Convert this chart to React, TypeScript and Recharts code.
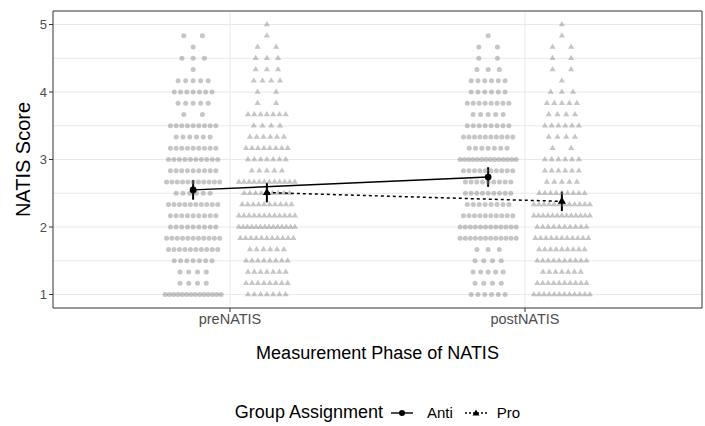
import React from "react";
import {
  ComposedChart,
  Scatter,
  XAxis,
  YAxis,
  CartesianGrid,
  ErrorBar,
  ReferenceArea,
  Label,
} from "recharts";

// score levels, top (5) to bottom (1), steps of 1/6
const scoreLevels = Array.from({ length: 25 }, (_, i) => 5 - i / 6);

// number of participants at each level (same order as scoreLevels)
const antiPreCounts = [0, 2, 1, 3, 1, 5, 7, 5, 2, 9, 6, 9, 10, 9, 11, 6, 10, 9, 9, 11, 10, 7, 4, 4, 14];
const proPreCounts = [1, 1, 2, 3, 3, 4, 2, 2, 7, 4, 6, 8, 7, 5, 12, 9, 10, 12, 14, 11, 6, 8, 7, 8, 7];
const antiPostCounts = [0, 1, 2, 2, 3, 6, 6, 8, 5, 8, 10, 7, 14, 10, 9, 9, 8, 10, 12, 12, 3, 4, 5, 4, 6];
const proPostCounts = [1, 1, 2, 2, 2, 1, 3, 5, 4, 6, 4, 2, 6, 6, 5, 9, 12, 13, 10, 11, 9, 10, 7, 10, 12];

const phases = ["preNATIS", "postNATIS"];
const antiMeans = [2.55, 2.74];
const proMeans = [2.51, 2.38];
const antiErr = [0.145, 0.145];
const proErr = [0.145, 0.145];

const DODGE = 0.125;
const FONT = "'Liberation Sans', Arial, sans-serif";

// spread the points of one level sideways around the group centre
const spreadRow = (centre: number, y: number, n: number) => {
  if (n === 0) return [];
  if (n === 1) return [{ x: centre, y }];
  const half = Math.min(0.095, 0.025 + (n - 1) * 0.0065);
  return Array.from({ length: n }, (_, i) => ({
    x: centre - half + (2 * half * i) / (n - 1),
    y,
  }));
};

const buildDots = (counts: number[], centre: number) =>
  counts.flatMap((n, i) => spreadRow(centre, scoreLevels[i], n));

const antiPre = buildDots(antiPreCounts, 1 - DODGE);
const proPre = buildDots(proPreCounts, 1 + DODGE);
const antiPost = buildDots(antiPostCounts, 2 - DODGE);
const proPost = buildDots(proPostCounts, 2 + DODGE);
const antiDots = [...antiPre, ...antiPost];
const proDots = [...proPre, ...proPost];

const antiMeanData = antiMeans.map((y, i) => ({ x: i + 1 - DODGE, y, err: antiErr[i] }));
const proMeanData = proMeans.map((y, i) => ({ x: i + 1 + DODGE, y, err: proErr[i] }));

const triPath = (cx: number, cy: number, s: number) => {
  const h = s * 0.866;
  return `M${cx},${cy - (2 * h) / 3}L${cx + s / 2},${cy + h / 3}L${cx - s / 2},${cy + h / 3}Z`;
};

const GreyCircle = (p: any) => (
  <circle cx={p.cx} cy={p.cy} r={2.5} fill="#808080" fillOpacity={0.45} />
);
const GreyTriangle = (p: any) => (
  <path d={triPath(p.cx, p.cy, 6.2)} fill="#808080" fillOpacity={0.45} />
);
const MeanCircle = (p: any) => <circle cx={p.cx} cy={p.cy} r={3.4} fill="#000" />;
const MeanTriangle = (p: any) => <path d={triPath(p.cx, p.cy, 8)} fill="#000" />;

const LegendKey = ({ dashed, tri }: { dashed?: boolean; tri?: boolean }) => (
  <svg width={26} height={14} style={{ display: "block" }}>
    <line
      x1={2}
      x2={24}
      y1={7}
      y2={7}
      stroke="#000"
      strokeWidth={1.4}
      strokeDasharray={dashed ? "2 2" : undefined}
    />
    {tri ? <path d={triPath(13, 7.5, 7)} fill="#000" /> : <circle cx={13} cy={7} r={3} fill="#000" />}
  </svg>
);

export default function App() {
  return (
    <div
      style={{
        position: "absolute",
        left: 0,
        top: 0,
        width: 705,
        height: 426,
        background: "#fff",
        fontFamily: FONT,
      }}
    >
      <ComposedChart
        width={705}
        height={426}
        margin={{ top: 11, right: 3, left: 0, bottom: 58 }}
      >
        <CartesianGrid
          stroke="#e8e8e8"
          strokeWidth={1}
          horizontalValues={[1, 1.5, 2, 2.5, 3, 3.5, 4, 4.5, 5]}
          verticalValues={[1, 2]}
        />
        <XAxis
          type="number"
          dataKey="x"
          domain={[0.4, 2.6]}
          ticks={[1, 2]}
          allowDataOverflow
          tickFormatter={(v) => phases[v - 1] ?? ""}
          axisLine={false}
          tickLine={{ stroke: "#333" }}
          tickSize={4}
          tick={{ fill: "#4d4d4d", fontSize: 14.5, fontFamily: FONT }}
          height={60}
        >
          <Label
            value="Measurement Phase of NATIS"
            position="insideBottom"
            offset={9}
            style={{ fill: "#000", fontSize: 18, fontFamily: FONT }}
          />
        </XAxis>
        <YAxis
          type="number"
          dataKey="y"
          domain={[0.8, 5.2]}
          ticks={[1, 2, 3, 4, 5]}
          allowDataOverflow
          axisLine={false}
          tickLine={{ stroke: "#333" }}
          tickSize={4}
          tick={{ fill: "#4d4d4d", fontSize: 13, fontFamily: FONT }}
          width={53}
        >
          <Label
            value="NATIS Score"
            angle={-90}
            position="insideLeft"
            offset={23}
            style={{ fill: "#000", fontSize: 20, fontFamily: FONT, textAnchor: "middle" }}
          />
        </YAxis>
        <Scatter data={antiDots} shape={GreyCircle} isAnimationActive={false} />
        <Scatter data={proDots} shape={GreyTriangle} isAnimationActive={false} />
        <Scatter
          data={antiMeanData}
          shape={MeanCircle}
          line={{ stroke: "#000", strokeWidth: 1.5 }}
          isAnimationActive={false}
        >
          <ErrorBar dataKey="err" direction="y" width={0} stroke="#000" strokeWidth={2} />
        </Scatter>
        <Scatter
          data={proMeanData}
          shape={MeanTriangle}
          line={{ stroke: "#000", strokeWidth: 1.5, strokeDasharray: "3 3" }}
          isAnimationActive={false}
        >
          <ErrorBar dataKey="err" direction="y" width={0} stroke="#000" strokeWidth={2} />
        </Scatter>
        <ReferenceArea
          x1={0.4}
          x2={2.6}
          y1={0.8}
          y2={5.2}
          fill="none"
          fillOpacity={0}
          stroke="#333"
          strokeWidth={1}
          strokeOpacity={1}
        />
      </ComposedChart>
      <div
        style={{
          position: "absolute",
          left: 0,
          width: 755,
          top: 402,
          display: "flex",
          justifyContent: "center",
          alignItems: "center",
          gap: 4,
        }}
      >
        <span style={{ fontSize: 18, marginRight: 2 }}>Group Assignment</span>
        <LegendKey />
        <span style={{ fontSize: 15, marginLeft: 8, marginRight: 6 }}>Anti</span>
        <LegendKey dashed tri />
        <span style={{ fontSize: 15, marginLeft: 4 }}>Pro</span>
      </div>
    </div>
  );
}
